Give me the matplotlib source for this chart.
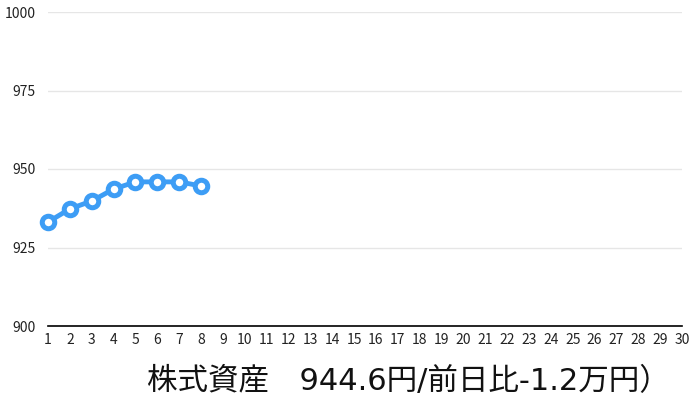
import matplotlib.pyplot as plt

plt.rcParams['font.family'] = ['Noto Sans CJK JP', 'DejaVu Sans']

# daily values (day of month -> price)
days = [1, 2, 3, 4, 5, 6, 7, 8]
values = [933.1, 937.3, 939.8, 943.6, 945.9, 945.9, 945.9, 944.6]
x_ticks = list(range(1, 31))
y_ticks = [900, 925, 950, 975, 1000]
title = "株式資産　944.6円/前日比-1.2万円）"

fig = plt.figure(figsize=(7, 4.09), dpi=100)
ax = fig.add_axes([48 / 700, 83 / 409, 634 / 700, 314 / 409])

ax.plot(days, values, '-o', color='#3d9df5', lw=3.5, ms=9, mew=3.6,
        markerfacecolor='white', markeredgecolor='#3d9df5', zorder=3,
        clip_on=False)

ax.set_xlim(1, 30)
ax.set_ylim(900, 1000)
ax.set_xticks(x_ticks)
ax.set_yticks(y_ticks)
ax.tick_params(axis='both', length=0, labelsize=10, colors='#222222')
ax.tick_params(axis='x', pad=5)
ax.tick_params(axis='y', pad=9)
ax.grid(axis='y', color='#e6e6e6', lw=1)
ax.set_axisbelow(True)
for side in ['top', 'right', 'left']:
    ax.spines[side].set_visible(False)
ax.spines['bottom'].set_color('black')
ax.spines['bottom'].set_linewidth(1.2)

# latin glyphs in DejaVu (wider digits), CJK falls back to Noto
fig.text(408 / 700, 1 - 381 / 409, title, ha='center', va='center',
         fontsize=22, color='#111111',
         family=['DejaVu Sans', 'Noto Sans CJK JP'])

plt.savefig('out.png', dpi=100)
